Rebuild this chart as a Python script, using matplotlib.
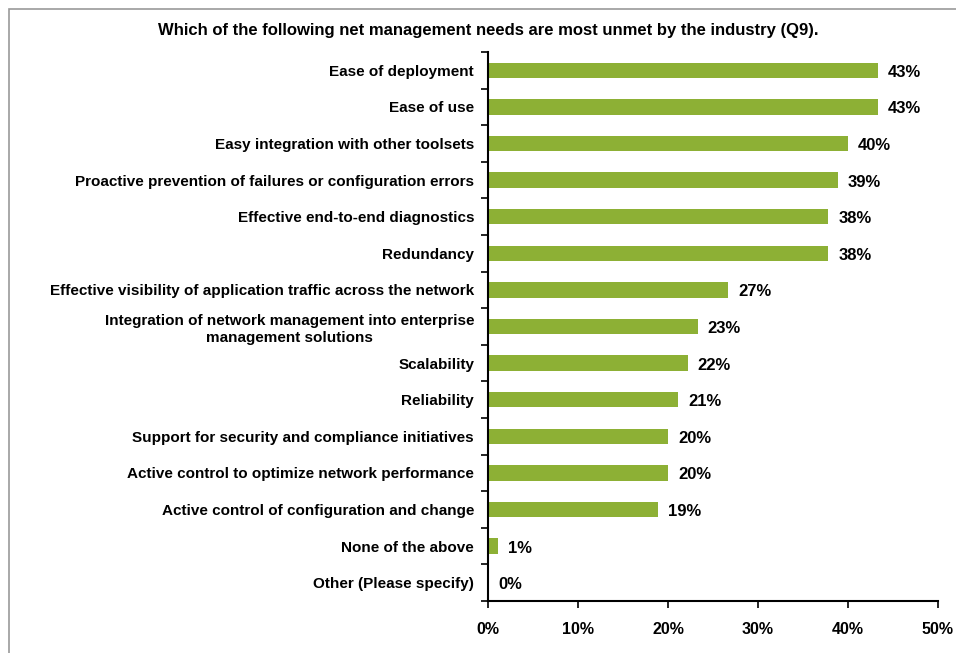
import matplotlib
matplotlib.use("Agg")
import matplotlib.pyplot as plt
from matplotlib.patches import Rectangle
from matplotlib.ticker import FixedLocator, PercentFormatter

plt.rcParams['font.family'] = ['Liberation Sans', 'DejaVu Sans']

categories = [
    "Ease of deployment",
    "Ease of use",
    "Easy integration with other toolsets",
    "Proactive prevention of failures or configuration errors",
    "Effective end-to-end diagnostics",
    "Redundancy",
    "Effective visibility of application traffic across the network",
    "Integration of network management into enterprise\nmanagement solutions",
    "Scalability",
    "Reliability",
    "Support for security and compliance initiatives",
    "Active control to optimize network performance",
    "Active control of configuration and change",
    "None of the above",
    "Other (Please specify)",
]
values = [43.3, 43.3, 40.0, 38.9, 37.8, 37.8, 26.7, 23.3, 22.2, 21.1, 20.0, 20.0, 18.9, 1.1, 0.0]
xticks = [0, 10, 20, 30, 40, 50]
title = "Which of the following net management needs are most unmet by the industry (Q9)."

W, H = 956, 653
fig = plt.figure(figsize=(W / 100, H / 100), dpi=100)
ax = fig.add_axes([488 / W, 1 - 601 / H, (938 - 488) / W, (601 - 52) / H])

n = len(categories)
ypos = list(range(n))
ax.barh(ypos, values, height=0.42, color='#8DB035', edgecolor='none')
ax.set_ylim(n - 0.5, -0.5)
ax.set_xlim(0, 50)

ax.set_yticks(ypos)
ax.set_yticklabels(categories, fontsize=11, fontweight='bold', ha='right',
                   multialignment='center', linespacing=1.25)
ax.yaxis.set_minor_locator(FixedLocator([i - 0.5 for i in range(n + 1)]))
ax.tick_params(axis='y', which='major', length=0, pad=10)
ax.tick_params(axis='y', which='minor', length=5, width=1.2, direction='out', color='black')

ax.set_xticks(xticks)
ax.xaxis.set_major_formatter(PercentFormatter(decimals=0))
ax.tick_params(axis='x', which='major', length=5, width=1.2, direction='out', pad=10, labelsize=11.5)
for lab in ax.get_xticklabels():
    lab.set_fontweight('bold')

for s in ['top', 'right']:
    ax.spines[s].set_visible(False)
for s in ['left', 'bottom']:
    ax.spines[s].set_linewidth(1.5)
    ax.spines[s].set_color('black')

for y, v in zip(ypos, values):
    ax.annotate(f"{v:.0f}%", xy=(v, y), xytext=(10, -2), textcoords='offset pixels',
                va='center', ha='left', fontsize=12, fontweight='bold')

fig.text(488 / W, 1 - 31 / H, title, ha='center', va='center', fontsize=12, fontweight='bold')

fig.patches.append(Rectangle((9 / W, -0.1), 1.2, 1.1 - 9 / H, transform=fig.transFigure,
                             fill=False, edgecolor='#999999', linewidth=1.2))

fig.savefig("out.png", dpi=100)
